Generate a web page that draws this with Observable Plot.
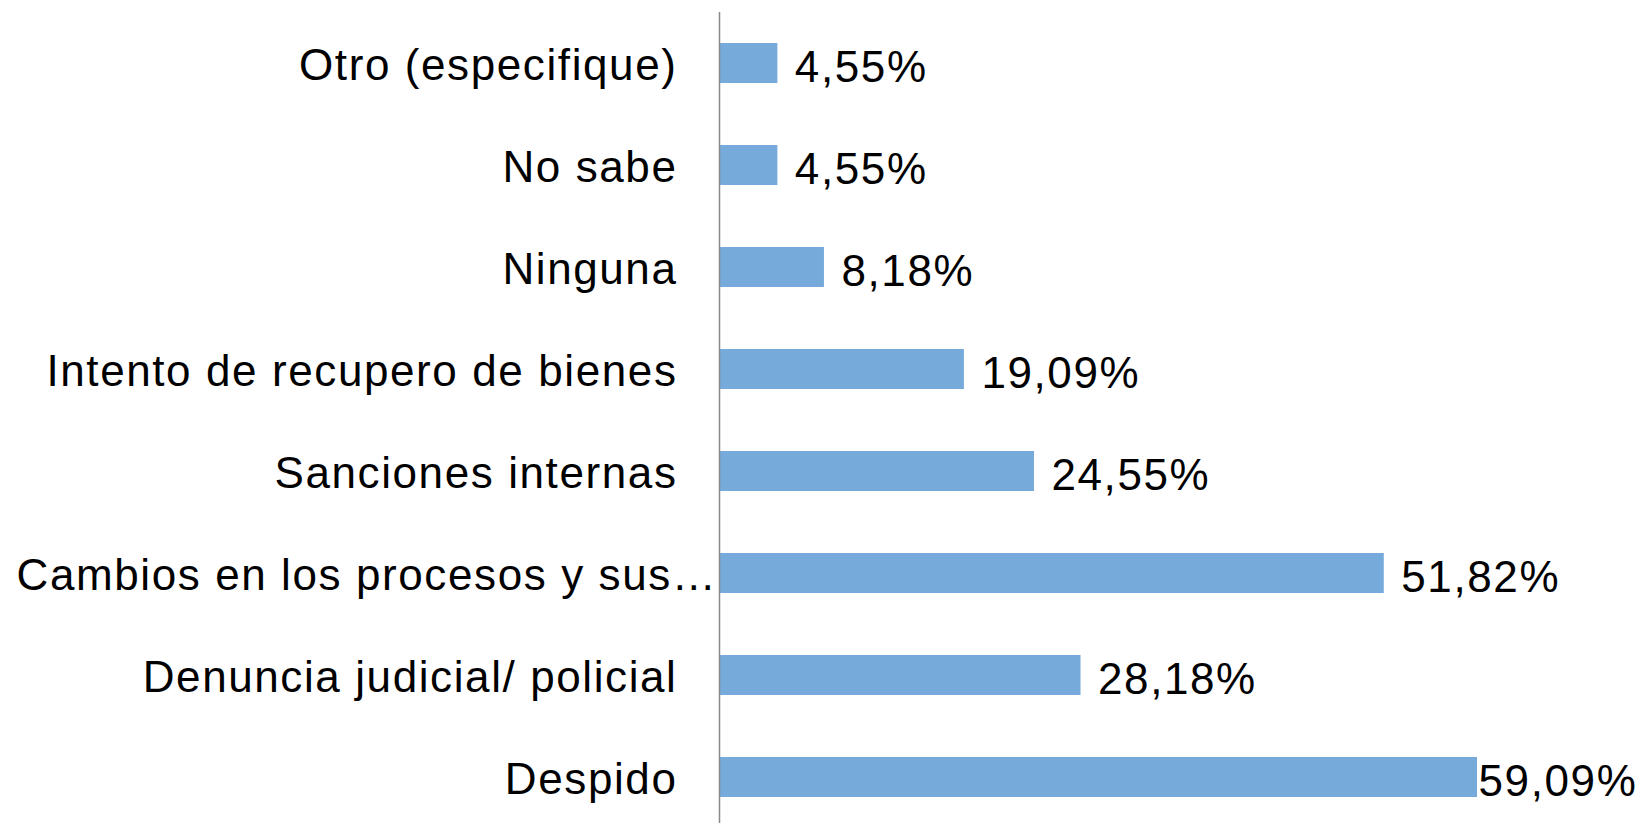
<!DOCTYPE html>
<html>
<head>
<meta charset="utf-8">
<script src="https://cdn.jsdelivr.net/npm/d3@7"></script>
<script src="https://cdn.jsdelivr.net/npm/@observablehq/plot@0.6"></script>
<style>
  html, body { margin: 0; padding: 0; background: #fff; }
  #chart svg { display: block; }
  #chart text { letter-spacing: 1.6px; }
</style>
</head>
<body>
<div id="chart"></div>
<script>
const categories = [
  "Otro (especifique)",
  "No sabe",
  "Ninguna",
  "Intento de recupero de bienes",
  "Sanciones internas",
  "Cambios en los procesos y sus…",
  "Denuncia judicial/ policial",
  "Despido"
];
const values = [4.55, 4.55, 8.18, 19.09, 24.55, 51.82, 28.18, 59.09];

const data = categories.map((c, i) => ({category: c, value: values[i]}));
const locale = d3.formatLocale({decimal: ",", thousands: ".", grouping: [3], currency: ["", "€"]});
const fmt = v => locale.format(".2f")(v) + "%";
const maxVal = d3.max(values);
const isTrunc = d => d.category.endsWith("…");

const ff = "'Liberation Sans', Arial, sans-serif";
const fs = 44;

const chart = Plot.plot({
  width: 1644,
  height: 823,
  marginLeft: 719,
  marginRight: 27,
  marginTop: 12,
  marginBottom: 0,
  style: {fontFamily: ff, background: "#fff"},
  x: {domain: [0, 70], axis: null},
  y: {domain: categories, axis: null, paddingInner: 0.605, paddingOuter: 0.2725, align: 0.54},
  marks: [
    Plot.barX(data, {x: "value", y: "category", fill: "#75AADB"}),
    Plot.ruleX([0], {stroke: "#888888", strokeWidth: 1.5}),
    // category labels
    Plot.text(data.filter(d => !isTrunc(d)), {
      y: "category", text: "category", frameAnchor: "left",
      textAnchor: "end", dx: -42, dy: 2, fill: "#000", fontSize: fs, fontFamily: ff
    }),
    Plot.text(data.filter(isTrunc), {
      y: "category", text: "category", frameAnchor: "left",
      textAnchor: "start", dx: -703, dy: 2, fill: "#000", fontSize: fs, fontFamily: ff
    }),
    // value labels
    Plot.text(data.filter(d => d.value !== maxVal), {
      x: "value", y: "category", text: d => fmt(d.value),
      textAnchor: "start", dx: 17, dy: 4, fill: "#000", fontSize: fs, fontFamily: ff
    }),
    Plot.text(data.filter(d => d.value === maxVal), {
      x: "value", y: "category", text: d => fmt(d.value),
      textAnchor: "start", dx: 1, dy: 4, fill: "#000", fontSize: fs, fontFamily: ff
    })
  ]
});
document.getElementById("chart").appendChild(chart);
</script>
</body>
</html>
